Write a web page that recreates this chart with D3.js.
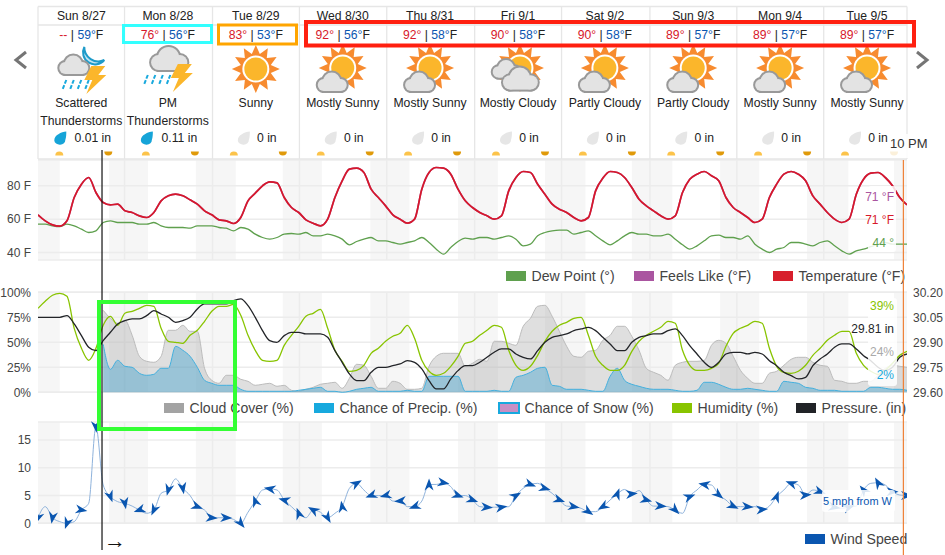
<!DOCTYPE html>
<html>
<head>
    <meta charset="utf-8">
    <title>10 day weather graph</title>
    <script src="https://d3js.org/d3.v7.min.js"></script>
    <style>
        html, body { margin: 0; padding: 0; background: #fff; overflow: hidden; }
        svg { display: block; font-family: "Liberation Sans", Arial, sans-serif; }
        .grid { stroke: #ececec; stroke-width: 1.5px; }
        .tick-label { font-size: 12px; fill: #444; }
        .legend-label { font-size: 14.1px; fill: #444; }
        .day-text { font-size: 12.2px; fill: #222; text-anchor: middle; }
        .val-label { font-size: 12px; text-anchor: end; }
    </style>
</head>
<body>
<svg width="945" height="555"></svg>
<script>
    var days = ["Sun 8/27", "Mon 8/28", "Tue 8/29", "Wed 8/30", "Thu 8/31", "Fri 9/1", "Sat 9/2", "Sun 9/3", "Mon 9/4", "Tue 9/5"];
    var highs = [null, 76, 83, 92, 92, 90, 90, 89, 89, 89];
    var lows = [59, 56, 53, 56, 58, 58, 58, 57, 57, 57];
    var conditions = [["Scattered", "Thunderstorms"], ["PM", "Thunderstorms"], ["Sunny"], ["Mostly Sunny"], ["Mostly Sunny"], ["Mostly Cloudy"], ["Partly Cloudy"], ["Partly Cloudy"], ["Mostly Sunny"], ["Mostly Sunny"]];
    var icons = ["nightstorm", "storm", "sun", "suncloud", "suncloud", "clouds", "suncloud", "suncloud", "suncloud", "suncloud"];
    var rainTotals = ["0.01 in", "0.11 in", "0 in", "0 in", "0 in", "0 in", "0 in", "0 in", "0 in", "0 in"];

    // x runs in 2 hour steps
    var dayEdges = [0, 11.95, 24.1, 36.1, 48.16, 60.3, 72.3, 84.5, 96.5, 108.5, 120];
    var nightBands = [[0, 3], [9.8, 15.2], [21.8, 27.3], [33.8, 39.2], [45.9, 51.3], [58, 63.5], [70, 75.6], [82, 87.6], [94.2, 99.6], [106.2, 111.9], [118.2, 120]];
    var nowStep = 8.84, hoverStep = 119.5;

    var temperature = [62.6, 59, 56.6, 55.8, 59, 73, 81, 85, 76, 70, 68.6, 69, 65, 64, 62, 61, 64, 71, 74, 75, 74, 71.6, 69, 65, 62.6, 59.6, 59, 57.4, 61, 71, 75.6, 80, 82.4, 81.8, 73, 67, 64, 59.6, 57.6, 56, 60, 73, 83, 90, 90.6, 88, 78, 73, 68, 62.6, 60, 57.6, 60, 78, 88, 91, 90.6, 87, 78, 71, 67, 64, 62, 60, 62, 77, 85, 88.6, 88, 81, 75, 69, 66, 64, 61, 59, 61, 77, 84.6, 88.6, 88, 85, 79, 72, 68, 65, 62, 60, 62, 76, 84, 87, 88.6, 86, 83, 73, 67, 64, 61, 58, 60, 73, 81, 87, 88.6, 87, 83, 74, 69, 64, 60, 58, 60, 75, 84, 87.6, 88, 85, 80, 73, 68.6];
    var dewPoint = [57, 57, 56, 55.5, 57, 56, 54, 52, 53, 58, 59, 58, 58, 58, 57, 57, 58, 56, 55, 55, 55, 54.6, 56, 56, 56, 55, 54.6, 53, 55, 54, 51, 49, 48, 49, 51, 51.4, 51, 52, 50, 50, 51, 50, 48, 44.6, 46.6, 48, 49, 47, 47, 46, 45, 46, 47, 49, 46, 42, 39, 43, 46.6, 48.6, 48, 49, 49, 48, 49, 50, 48, 44, 45, 50, 52, 53, 53.4, 53.4, 51, 52, 53, 50, 47, 44.6, 47, 50, 52, 51, 51, 50, 50, 51, 48, 44.6, 42, 44, 47, 50, 50.4, 49, 49, 48, 50, 45, 42, 40, 42, 43, 46, 46, 45, 44, 46, 47, 44, 41, 39, 41, 42, 43.5, 45, 46, 45, 45, 45];
    var feelsLike = temperature; // same as temperature all the way along
    var humidity = [84, 91, 97, 99, 96, 64, 44, 32, 44, 67, 76, 67, 79, 81, 84, 87, 86, 64, 51, 50, 49, 57, 62, 71, 81, 86, 86, 88, 77, 57, 42, 32, 31, 32, 47, 57, 66, 76, 79, 83, 64, 42, 31, 21, 22, 27, 39, 44, 51, 56, 59, 67, 54, 32, 21, 17, 19, 26, 36, 49, 51, 57, 62, 67, 65, 42, 27, 22, 26, 37, 51, 61, 67, 70, 74, 75, 57, 36, 27, 22, 22, 27, 41, 51, 57, 61, 65, 71, 69, 42, 27, 22, 22, 24, 29, 46, 59, 64, 67, 71, 69, 44, 26, 20, 19, 21, 27, 37, 44, 52, 57, 61, 61, 39, 27, 21, 18, 22, 29, 37, 41];
    var pressure = [30.05, 30.05, 30.05, 30.05, 30.06, 30.01, 29.94, 29.87, 29.85, 29.91, 29.96, 30.01, 30.03, 30.04, 30.04, 30.06, 30.09, 30.07, 30.05, 30.02, 30.03, 30.05, 30.10, 30.13, 30.13, 30.13, 30.13, 30.15, 30.16, 30.12, 30.05, 29.97, 29.91, 29.90, 29.94, 29.96, 29.96, 29.95, 29.95, 29.95, 29.93, 29.85, 29.78, 29.71, 29.67, 29.67, 29.72, 29.75, 29.75, 29.76, 29.77, 29.79, 29.78, 29.74, 29.67, 29.62, 29.62, 29.68, 29.73, 29.76, 29.76, 29.78, 29.81, 29.84, 29.86, 29.86, 29.83, 29.81, 29.80, 29.85, 29.90, 29.93, 29.94, 29.95, 29.97, 29.98, 29.99, 29.97, 29.93, 29.89, 29.85, 29.85, 29.90, 29.93, 29.94, 29.95, 29.95, 29.97, 29.98, 29.94, 29.88, 29.83, 29.78, 29.75, 29.78, 29.83, 29.84, 29.84, 29.83, 29.84, 29.83, 29.79, 29.76, 29.72, 29.70, 29.68, 29.69, 29.76, 29.80, 29.83, 29.87, 29.89, 29.89, 29.86, 29.82, 29.79, 29.75, 29.73, 29.75, 29.81, 29.83];
    var cloudCover = [null, null, null, null, null, null, null, null, null, 82, 74, 69, 72, 57, 36, 31, 30, 36, 62, 62, 67, 61, 61, 24, 12, 9, 17, 17, 13, 11, 7, 8, 9, 6, 7, 2, 1, 3, 5, 8, 9, 10, 4, 14, 28, 27, 16, 4, 4, 11, 9, 3, 3, 4, 26, 36, 39, 39, 39, 26, 29, 33, 31, 51, 51, 49, 47, 66, 74, 86, 87, 76, 61, 46, 36, 35, 41, 42, 52, 57, 66, 66, 56, 42, 24, 20, 17, 12, 27, 30, 31, 31, 32, 47, 52, 49, 36, 22, 14, 9, 9, 19, 21, 27, 33, 35, 35, 30, 27, 26, 12, 11, 9, 9, 11, 11, 17, 24, 27, 26, 25];
    var precipChance = [null, null, null, null, null, null, null, null, null, 48, 23, 32, 26, 25, 19, 17, 18, 24, 24, 46, 42, 36, 25, 12, 9, 7, 7, 7, 3, 1, 1, 1, 1, 1, 1, 1, 2, 3, 4, 5, 1, 1, 0, 1, 3, 4, 5, 1, 1, 1, 1, 2, 1, 1, 16, 16, 16, 16, 16, 1, 1, 1, 1, 2, 1, 1, 15, 17, 20, 24, 25, 7, 6, 3, 3, 3, 2, 1, 1, 16, 24, 12, 8, 6, 4, 3, 3, 3, 2, 1, 1, 2, 10, 10, 8, 5, 3, 3, 4, 3, 2, 1, 1, 11, 10, 9, 5, 4, 2, 2, 2, 1, 1, 1, 1, 5, 5, 4, 3, 3, 2];
    var windSpeed = [1, 3, 1, 0.3, 0, 0.3, 2.4, 3.6, 17.4, 6.9, 4.8, 3.9, 3.6, 3.1, 2.4, 1.8, 2.4, 5.4, 6, 8, 6.3, 5, 3, 2.4, 1, 1, 1, 0.7, 0, 2, 4, 6, 6.2, 6, 4.2, 3, 1.8, 1, 2.4, 2, 1, 1.8, 3, 6.3, 7.2, 6, 5, 5, 5, 4, 4, 3, 3, 4, 7, 7, 7.3, 6.6, 5, 5, 4.2, 3, 2.9, 2.9, 2.9, 3, 5, 6.3, 7, 7.2, 6.3, 5.4, 4.2, 3.1, 3, 2.7, 2.1, 2.1, 3, 4.2, 5.3, 6.1, 5.3, 5.9, 4.2, 3.1, 3.1, 3, 2.4, 1.8, 4.8, 6, 7, 6.9, 5.1, 4.2, 3.1, 3, 3, 3, 2.5, 3.1, 4.8, 6, 7.2, 6.9, 5.1, 6, 5.7, 3.6, 2.9, 2.7, 2.9, 3.1, 6, 7.2, 7.3, 6.9, 5.7, 5.1, 5];
    // one heading for every second wind reading, degrees clockwise from up
    var windHeading = [200, 190, 200, 100, 175, 160, 170, 250, 205, 195, 170, 110, 95, 92, 140, 340, 280, 285, 340, 300, 150, 350, 60, 250, 255, 265, 250, 0, 100, 110, 110, 95, 80, 60, 110, 105, 110, 100, 125, 240, 20, 85, 105, 95, 135, 70, 280, 130, 115, 95, 85, 20, 290, 85, 110, 100, 70, 320, 330, 90, 90];

    var tempTicks = [40, 60, 80];
    var percentTicks = [0, 25, 50, 75, 100];
    var pressureTicks = [29.60, 29.75, 29.90, 30.05, 30.20];
    var windTicks = [0, 5, 10, 15];

    var svg = d3.select("svg");
    var left = 38, right = 907;

    var x = d3.scaleLinear().domain([0, 120]).range([left, right]);
    var yTemp = d3.scaleLinear().domain([35.5, 95.5]).range([260, 160]);
    var yPct = d3.scaleLinear().domain([0, 100]).range([392.3, 292.3]);
    var yPres = d3.scaleLinear().domain([29.6, 30.2]).range([392.3, 292.3]);
    var yWind = d3.scaleLinear().domain([0, 18.25]).range([523.3, 422]);

    svg.append("defs").append("clipPath").attr("id", "plot-clip")
        .append("rect").attr("x", left).attr("y", 150).attr("width", right - left).attr("height", 380);

    function drawPanel(y, ticks, fmt) {
        var top = y.range()[1], bottom = y.range()[0];
        var g = svg.append("g");
        g.selectAll(".night").data(nightBands).enter().append("rect")
            .attr("x", function (d) { return x(d[0]); })
            .attr("width", function (d) { return x(d[1]) - x(d[0]); })
            .attr("y", top).attr("height", bottom - top)
            .attr("fill", "#f6f6f6");
        g.selectAll(".vline").data(dayEdges.slice(1, 10)).enter().append("line")
            .attr("class", "grid")
            .attr("x1", function (d) { return x(d); }).attr("x2", function (d) { return x(d); })
            .attr("y1", top).attr("y2", bottom);
        g.selectAll(".hline").data(ticks).enter().append("line")
            .attr("class", "grid")
            .attr("x1", left).attr("x2", right)
            .attr("y1", function (d) { return y(d); }).attr("y2", function (d) { return y(d); });
        g.selectAll(".edge").data([top, bottom]).enter().append("line")
            .attr("class", "grid")
            .attr("x1", left).attr("x2", right)
            .attr("y1", function (d) { return d; }).attr("y2", function (d) { return d; });
        g.selectAll(".tick-label").data(ticks).enter().append("text")
            .attr("class", "tick-label")
            .attr("x", 31).attr("y", function (d) { return y(d); })
            .attr("dy", "0.35em").attr("text-anchor", "end")
            .text(fmt);
    }

    drawPanel(yTemp, tempTicks, function (d) { return d + " F"; });
    drawPanel(yPct, percentTicks, function (d) { return d + "%"; });
    drawPanel(yWind, windTicks, function (d) { return d; });

    svg.selectAll(".pres-label").data(pressureTicks).enter().append("text")
        .attr("class", "tick-label")
        .attr("x", 913).attr("y", function (d) { return yPres(d); })
        .attr("dy", "0.35em")
        .text(function (d) { return d.toFixed(2); });

    var marks = svg.append("g").attr("clip-path", "url(#plot-clip)");

    function addLine(values, y, color, width) {
        var line = d3.line()
            .defined(function (d) { return d !== null; })
            .x(function (d, i) { return x(i); })
            .y(function (d) { return y(d); })
            .curve(d3.curveMonotoneX);
        marks.append("path").datum(values)
            .attr("d", line).attr("fill", "none")
            .attr("stroke", color).attr("stroke-width", width);
    }

    function addArea(values, y, fill, stroke) {
        var area = d3.area()
            .defined(function (d) { return d !== null; })
            .x(function (d, i) { return x(i); })
            .y0(y(0))
            .y1(function (d) { return y(d); })
            .curve(d3.curveMonotoneX);
        marks.append("path").datum(values).attr("d", area).attr("fill", fill).attr("stroke", "none");
        addLine(values, y, stroke, 1);
    }

    addLine(dewPoint, yTemp, "#5fa04e", 1.3);
    addLine(feelsLike, yTemp, "#aa55a0", 1.7);
    addLine(temperature, yTemp, "#d7182a", 1.7);

    addArea(cloudCover, yPct, "rgba(150,150,150,0.3)", "#bcbcbc");
    addArea(precipChance, yPct, "rgba(60,160,205,0.42)", "#44b0de");
    addLine(humidity, yPct, "#88c400", 1.3);
    addLine(pressure, yPres, "#222428", 1.3);

    addLine(windSpeed, yWind, "#8fb3dc", 1);
    marks.selectAll(".wind-arrow").data(windHeading).enter().append("path")
        .attr("class", "wind-arrow")
        .attr("d", "M0,-6L4.5,6L0,2.5L-4.5,6Z")
        .attr("fill", "#0a56b0")
        .attr("transform", function (d, i) {
            return "translate(" + x(i * 2) + "," + yWind(windSpeed[i * 2]) + ") rotate(" + d + ")";
        });

    // legends
    function addLegend(items, y) {
        var g = svg.append("g");
        items.forEach(function (d) {
            g.append("rect").attr("x", d.x).attr("y", y - 5).attr("width", 20).attr("height", 10)
                .attr("fill", d.color)
                .attr("stroke", d.stroke || "none").attr("stroke-width", d.stroke ? 2 : 0);
            g.append("text").attr("class", "legend-label")
                .attr("x", d.x + 25.5).attr("y", y).attr("dy", "0.36em").text(d.name);
        });
    }

    addLegend([
        {name: "Dew Point (°)", color: "#5fa04e", x: 506},
        {name: "Feels Like (°F)", color: "#aa55a0", x: 634},
        {name: "Temperature (°F)", color: "#d71f2c", x: 773}
    ], 276);
    addLegend([
        {name: "Cloud Cover (%)", color: "#a3a3a3", x: 164},
        {name: "Chance of Precip. (%)", color: "#17a9de", x: 314},
        {name: "Chance of Snow (%)", color: "#c88fc4", stroke: "#17a9de", x: 499},
        {name: "Humidity (%)", color: "#88c400", x: 672},
        {name: "Pressure. (in)", color: "#212327", x: 796}
    ], 408);
    addLegend([{name: "Wind Speed", color: "#0a56b0", x: 805}], 539);

    // hover labels sit on faded white boxes
    function addLabelBox(bx, by, w, h) {
        svg.append("rect").attr("x", bx).attr("y", by).attr("width", w).attr("height", h)
            .attr("rx", 3).attr("fill", "#fff").attr("opacity", 0.85);
    }
    addLabelBox(868, 186, 28, 66);
    addLabelBox(868, 298, 29, 88);
    addLabelBox(822, 490, 73, 22);

    var hoverLabels = [
        {text: "71 °F", y: 197, color: "#aa55a0"},
        {text: "71 °F", y: 220, color: "#d7182a"},
        {text: "44 °", y: 243, color: "#5fa04e"},
        {text: "39%", y: 306, color: "#88c400"},
        {text: "29.81 in", y: 329, color: "#222428"},
        {text: "24%", y: 352, color: "#aaaaaa"},
        {text: "2%", y: 375, color: "#17a9de"}
    ];
    svg.selectAll(".val-label").data(hoverLabels).enter().append("text")
        .attr("class", "val-label")
        .attr("x", 894).attr("y", function (d) { return d.y; })
        .attr("dy", "0.36em").attr("fill", function (d) { return d.color; })
        .text(function (d) { return d.text; });
    svg.append("text").attr("x", 892).attr("y", 501).attr("dy", "0.36em")
        .attr("text-anchor", "end").attr("font-size", 11).attr("fill", "#0a56b0")
        .text("5 mph from W");

    // day table
    var table = svg.append("g");
    [6.5, 25, 159].forEach(function (y) {
        table.append("line").attr("x1", left).attr("x2", right).attr("y1", y).attr("y2", y)
            .attr("stroke", "#e6e6e6").attr("stroke-width", 1.3);
    });
    dayEdges.forEach(function (d) {
        table.append("line").attr("x1", x(d)).attr("x2", x(d)).attr("y1", 6.5).attr("y2", 159)
            .attr("stroke", "#e6e6e6").attr("stroke-width", 1.3);
    });

    function outlined(g, shapes, stroke, fill, sw) {
        [{s: stroke, f: stroke, w: sw}, {s: "none", f: fill, w: 0}].forEach(function (p) {
            shapes.forEach(function (c) {
                g.append("circle").attr("cx", c[0]).attr("cy", c[1]).attr("r", c[2])
                    .attr("fill", p.f).attr("stroke", p.s).attr("stroke-width", p.w);
            });
        });
    }

    function cloud(g, cx, cy, k) {
        var shapes = [[cx - 9 * k, cy + 2 * k, 6 * k], [cx - 1 * k, cy - 2 * k, 8.5 * k], [cx + 8 * k, cy + 2 * k, 6 * k]];
        g.append("rect").attr("x", cx - 9 * k).attr("y", cy + 2 * k).attr("width", 17 * k).attr("height", 6 * k)
            .attr("fill", "#999").attr("stroke", "#999").attr("stroke-width", 4);
        outlined(g, shapes, "#999", "#e3e3e3", 4);
        g.append("rect").attr("x", cx - 9 * k).attr("y", cy + 1 * k).attr("width", 17 * k).attr("height", 7 * k)
            .attr("fill", "#e3e3e3");
    }

    function sun(g, cx, cy) {
        var rays = 12, pts = [];
        for (var i = 0; i < rays * 2; i++) {
            var r = i % 2 ? 15.5 : 24, a = i * Math.PI / rays - Math.PI / 2;
            pts.push([cx + r * Math.cos(a), cy + r * Math.sin(a)]);
        }
        g.append("polygon").attr("points", pts.join(" ")).attr("fill", "#f78b2f");
        g.append("circle").attr("cx", cx).attr("cy", cy).attr("r", 13.5).attr("fill", "#fff");
        g.append("circle").attr("cx", cx).attr("cy", cy).attr("r", 11.5).attr("fill", "#fbb62b");
    }

    function bolt(g, cx, cy) {
        g.append("path")
            .attr("d", "M" + (cx - 1) + "," + (cy - 14) + "h14l-7,9h8l-20,19l6,-14h-8z")
            .attr("fill", "#fbb62b");
    }

    function rain(g, cx, cy) {
        [0, 1, 2, 3].forEach(function (k) {
            g.append("line")
                .attr("x1", cx + k * 7.5).attr("y1", cy)
                .attr("x2", cx + k * 7.5 - 4).attr("y2", cy + 10)
                .attr("stroke", "#19a9dd").attr("stroke-width", 2).attr("stroke-dasharray", "4 1.5");
        });
    }

    function drawIcon(name, cx) {
        var g = table.append("g");
        if (name === "sun") sun(g, cx, 69);
        if (name === "suncloud") { sun(g, cx, 68); cloud(g, cx - 10, 83, 1); }
        if (name === "clouds") { sun(g, cx + 2, 68); cloud(g, cx - 11, 70, 0.95); cloud(g, cx + 3, 80, 1.2); }
        if (name === "nightstorm") {
            g.append("path").attr("d", "M" + (cx + 3) + ",47a12,12 0 0 0 20,13a14,14 0 0 1 -20,-13z")
                .attr("fill", "#bfe3f2").attr("stroke", "#1e9bc9").attr("stroke-width", 2);
            cloud(g, cx - 7, 66, 1);
            rain(g, cx - 15, 80);
            bolt(g, cx + 11, 80);
        }
        if (name === "storm") {
            cloud(g, cx + 2, 60, 1.25);
            rain(g, cx - 20, 75);
            bolt(g, cx + 11, 78);
        }
    }

    days.forEach(function (day, i) {
        var cx = x(dayEdges[i]) + 43.3;
        table.append("text").attr("class", "day-text").attr("x", cx).attr("y", 15.5).attr("dy", "0.36em").text(day);

        var temps = table.append("text").attr("class", "day-text").attr("x", cx).attr("y", 34.5).attr("dy", "0.36em");
        temps.append("tspan").attr("fill", "#d7182a").text(highs[i] === null ? "--" : highs[i] + "°");
        temps.append("tspan").attr("fill", "#222").text(" | ");
        temps.append("tspan").attr("fill", "#0a56b0").text(lows[i] + "°");
        temps.append("tspan").attr("fill", "#222").text("F");

        drawIcon(icons[i], cx);

        conditions[i].forEach(function (t, k) {
            table.append("text").attr("class", "day-text").attr("x", cx).attr("y", 102.5 + k * 18)
                .attr("dy", "0.36em").text(t);
        });

        var wet = rainTotals[i] !== "0 in";
        var dx = wet ? -21 : -12;
        table.append("path")
            .attr("d", "M6,-6.5C1,-6 -6,-3 -6,2.5A5.5,4.5 0 0 0 5,2C6,-1 6,-4 6,-6.5Z")
            .attr("transform", "translate(" + (cx + dx) + ",138)")
            .attr("fill", wet ? "#16a4d8" : "#e6e6e6");
        table.append("text").attr("class", "day-text").attr("x", cx + (wet ? 11.5 : 11)).attr("y", 138).attr("dy", "0.36em").text(rainTotals[i]);

        // sunrise and sunset
        table.append("path").attr("d", "M-4,0A4,4 0 0 1 4,0Z")
            .attr("transform", "translate(" + (cx - 22) + ",155.5)").attr("fill", "#fcc34a");
        table.append("path").attr("d", "M-4,0A4,4 0 0 0 4,0Z")
            .attr("transform", "translate(" + (cx + 27) + ",151.5)").attr("fill", "#e09a0a");
    });

    // paging arrows
    [[26, 16], [917, 927]].forEach(function (d) {
        svg.append("path")
            .attr("d", "M" + d[0] + ",52L" + d[1] + ",60L" + d[0] + ",68")
            .attr("fill", "none").attr("stroke", "#757575").attr("stroke-width", 3);
    });

    // current time and hover lines
    svg.append("line").attr("x1", x(nowStep)).attr("x2", x(nowStep)).attr("y1", 150).attr("y2", 550)
        .attr("stroke", "#111").attr("stroke-width", 1.2);
    svg.append("line").attr("x1", x(hoverStep)).attr("x2", x(hoverStep)).attr("y1", 160).attr("y2", 555)
        .attr("stroke", "#ef8136").attr("stroke-width", 1.2);
    svg.append("rect").attr("x", 888).attr("y", 134).attr("width", 42).attr("height", 24)
        .attr("fill", "#fff").attr("opacity", 0.85);
    svg.append("text").attr("x", 890).attr("y", 143).attr("dy", "0.36em")
        .attr("font-size", 13).attr("fill", "#333").text("10 PM");
    svg.append("text").attr("x", 115).attr("y", 540).attr("dy", "0.36em")
        .attr("font-size", 22).attr("text-anchor", "middle").attr("fill", "#111").text("→");

    // annotation boxes
    var boxes = [
        {x: 123.5, y: 25.5, w: 88, h: 17, color: "#33ffff", sw: 3},
        {x: 218.5, y: 25, w: 78, h: 19, color: "#ffa500", sw: 3},
        {x: 306, y: 22, w: 608, h: 23.5, color: "#ff2010", sw: 4},
        {x: 99, y: 302, w: 136, h: 127, color: "#33ff33", sw: 4}
    ];
    svg.selectAll(".note-box").data(boxes).enter().append("rect")
        .attr("class", "note-box")
        .attr("x", function (d) { return d.x; }).attr("y", function (d) { return d.y; })
        .attr("width", function (d) { return d.w; }).attr("height", function (d) { return d.h; })
        .attr("fill", "none")
        .attr("stroke", function (d) { return d.color; })
        .attr("stroke-width", function (d) { return d.sw; });
</script>
</body>
</html>
